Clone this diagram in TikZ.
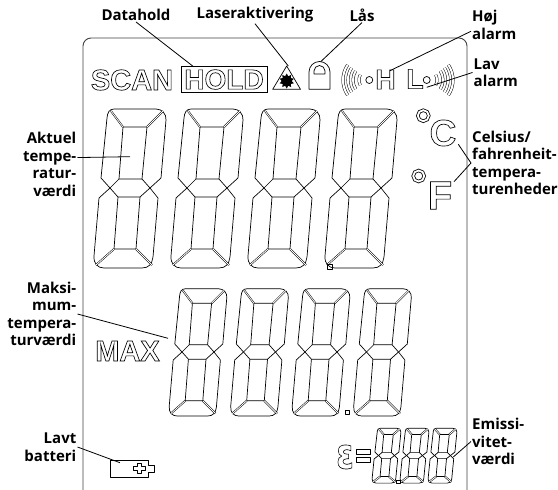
\documentclass[tikz,border=0pt]{standalone}
\usepackage{fontspec}
\usepackage{tikz}
\usetikzlibrary{shapes.geometric}
\newfontfamily\labelfont{Open Sans}
\newfontfamily\lcdfont{Liberation Sans}
\newfontfamily\epsfont{DejaVu Sans}
\newcommand{\lcdtext}[1]{\special{pdf:code 1 Tr .65 w}#1\special{pdf:code 0 Tr 1 w}}
\newcommand{\lcddigit}[4]{%
  \begin{scope}[shift={(#1,#2)},xscale=#3,yscale=#4]
    \draw[seg] (0,0) -- (-9,-10) -- (-3,-70) .. controls (-2.5,-75) and (-1,-79) .. (4,-79) -- (46,-79) .. controls (52,-79) and (56.5,-74) .. (56,-68) -- (51,-10) -- (40,0);
    \draw[seg] (0,0) -- (-11,10) -- (-16,68) .. controls (-16.5,76) and (-12,80) .. (-6,80) -- (32,80) .. controls (39,80) and (42,76) .. (43,69) -- (48,10) -- (40,0);
    \draw[seg] (0,0) -- (9,-9) -- (32,-9) -- (40,0) -- (30,9) -- (8,9) -- cycle;
    \draw[seg] (9,-9) -- (13,-61) -- (37,-61) -- (32,-9);
    \draw[seg] (8,9) -- (4,61) -- (26,61) -- (30,9);
    \draw[segd] (13,-61) -- (1,-77);
    \draw[segd] (37,-61) -- (53,-77);
    \draw[segd] (4,61) -- (-14,77);
    \draw[segd] (26,61) -- (42,77);
  \end{scope}}
\tikzset{
  seg/.style={line width=.7pt,line join=round},
  segd/.style={line width=.5pt,double,double distance=.8pt},
  lbl/.style={inner sep=1pt,font=\labelfont\bfseries\fontsize{15}{17.5}\selectfont},
  lcd/.style={inner sep=0pt,font=\lcdfont\bfseries\fontsize{29}{29}\selectfont},
  lead/.style={line width=.8pt},
  wave/.style={line width=.5pt,double,double distance=2pt},
  ring/.style={draw,circle,line width=.8pt,minimum size=11pt,inner sep=0pt,double,double distance=1.8pt}
}
\begin{document}
\begin{tikzpicture}[x=1pt,y=-1pt]
  \useasboundingbox (0,0) rectangle (558,490);
  % display frame
  \draw[line width=.9pt,black!75,rounded corners=8pt] (83,495) -- (83,38) -- (467,38) -- (467,495);

  % large digits
  \lcddigit{110}{188}{1}{1}
  \lcddigit{187}{188}{1}{1}
  \lcddigit{264}{188}{1}{1}
  \lcddigit{341}{188}{1}{1}
  \draw[seg] (327.5,264) rectangle (332,269);

  % max digits
  \lcddigit{182}{352}{.8}{.8}
  \lcddigit{243.5}{352}{.8}{.8}
  \lcddigit{305}{352}{.8}{.8}
  \lcddigit{366.5}{352}{.8}{.8}
  \draw[seg] (345.5,410) rectangle (349.5,414.5);

  % emissivity digits
  \lcddigit{378.5}{455.5}{.4}{.345}
  \lcddigit{406.5}{455.5}{.4}{.345}
  \lcddigit{434.5}{455.5}{.4}{.345}
  \draw[seg] (396.5,480) rectangle (400,483.5);

  % outlined letters
  \node[lcd] (scan) at (132,80) {\lcdtext{SCAN}};
  \node[lcd,draw,line width=.7pt,minimum width=86pt,minimum height=26.5pt] (hold) at (224,79.5) {\fontsize{28}{28}\selectfont\lcdtext{HOLD}};
  \node[lcd] (max) at (127.5,351) {\lcdtext{MAX}};
  \node[lcd] (cel) at (443,133) {\fontsize{37}{37}\selectfont\lcdtext{C}};
  \node[lcd] (fah) at (440,195.5) {\fontsize{40}{40}\selectfont\lcdtext{F}};
  \node[lcd] (high) at (385.5,79.5) {\fontsize{28}{28}\selectfont\lcdtext{H}};
  \node[lcd] (low) at (415,79) {\fontsize{28}{28}\selectfont\lcdtext{L}};
  \node[lcd] (eps) at (345,457) {\epsfont\bfseries\fontsize{42}{42}\selectfont\scalebox{.75}[1]{\lcdtext{ε}}};

  % equals sign
  \draw[seg] (356,449.5) rectangle (370,454);
  \draw[seg] (356,457.5) rectangle (370,462);

  % degree rings
  \node[ring] (degc) at (423.3,115.7) {};
  \node[ring] (degf) at (418.7,176) {};

  % laser symbol
  \draw[seg] (286.7,66) -- (272.7,89.3) -- (300.5,89.3) -- cycle;
  \node[star,star points=10,star point ratio=1.5,fill,inner sep=0pt,minimum size=15pt] (sun) at (286.7,81) {};

  % lock
  \draw[seg] (309,89.3) -- (309,72) arc[start angle=180,end angle=0,radius=10.5pt] -- (330,89.3) -- cycle;
  \draw[seg] (314,74) -- (314,71) arc[start angle=180,end angle=0,radius=5.5pt] -- (325,74) -- cycle;

  % alarm waves
  \node[draw,circle,seg,minimum size=7pt,inner sep=0pt] (ringh) at (369.3,80) {};
  \node[draw,circle,seg,minimum size=7pt,inner sep=0pt] (ringl) at (426.7,80) {};
  \draw[wave] (347.6,64.9) arc[start angle=146,end angle=214,radius=27pt];
  \draw[wave] (351.5,68) arc[start angle=147,end angle=213,radius=22pt];
  \draw[wave] (355.6,71) arc[start angle=148,end angle=212,radius=17pt];
  \draw[wave] (360.3,74.8) arc[start angle=152,end angle=208,radius=11pt];
  \draw[wave] (448.4,64.9) arc[start angle=34,end angle=-34,radius=27pt];
  \draw[wave] (444.5,68) arc[start angle=33,end angle=-33,radius=22pt];
  \draw[wave] (440.4,71) arc[start angle=32,end angle=-32,radius=17pt];
  \draw[wave] (435.7,74.8) arc[start angle=28,end angle=-28,radius=11pt];

  % battery
  \draw[seg] (110,460) -- (148.3,460) -- (148.3,465.7) -- (154,465.7) -- (154,472.3) -- (148.3,472.3) -- (148.3,477.7) -- (110,477.7) -- cycle;
  \draw[seg] (137.5,463) -- (141,463) -- (141,466.5) -- (145,466.5) -- (145,470) -- (141,470) -- (141,473.5) -- (137.5,473.5) -- (137.5,470) -- (133.5,470) -- (133.5,466.5) -- (137.5,466.5) -- cycle;

  % labels
  \node[lbl] (datahold) at (136,15) {Datahold};
  \node[lbl] (laser) at (255,15) {Laseraktivering};
  \node[lbl] (lock) at (362,15) {Lås};
  \node[lbl,anchor=west,align=left] (hoj) at (471,25) {Høj\\alarm};
  \node[lbl,anchor=west,align=left] (lav) at (472.5,72.5) {Lav\\alarm};
  \node[lbl,anchor=west,align=left] (unit) at (471,163) {Celsius/\\fahrenheit-\\tempera-\\turenheder};
  \node[lbl,anchor=west,align=left] (emis) at (471,441.5) {Emissi-\\vitet-\\værdi};
  \node[lbl,anchor=east,align=right] (cur) at (77.5,164.5) {Aktuel\\tempe-\\ratur-\\værdi};
  \node[lbl,anchor=east,align=right] (maxv) at (77.5,314) {Maksi-\\mum-\\tempera-\\turværdi};
  \node[lbl,anchor=east,align=right] (batt) at (77.5,447) {Lavt\\batteri};

  % leader ends
  \coordinate (toHold) at (193.3,66.5);
  \coordinate (toLaser) at (288.3,66);
  \coordinate (toLock) at (320.7,61.7);
  \coordinate (toHigh) at (390,70.7);
  \coordinate (toLow) at (426.7,87.3);
  \coordinate (toC) at (458.3,144.3);
  \coordinate (toF) at (454,181.7);
  \coordinate (toCur) at (130,156.7);
  \coordinate (toMax) at (168,338.3);
  \coordinate (toBatt) at (120,462.7);
  \coordinate (toEmis) at (453.3,457);

  \draw[lead] (datahold.south) to (toHold);
  \draw[lead] (laser.south) to (toLaser);
  \draw[lead] (lock.south) to (toLock);
  \draw[lead] (hoj.195) to (toHigh);
  \draw[lead] (lav.west) to (toLow);
  \draw[lead] (toC) -- (unit.west) -- (toF);
  \draw[lead] (cur.14) to (toCur);
  \draw[lead] (maxv.east) to (toMax);
  \draw[lead] (batt.east) to (toBatt);
  \draw[lead] (emis.west) to (toEmis);
\end{tikzpicture}
\end{document}
